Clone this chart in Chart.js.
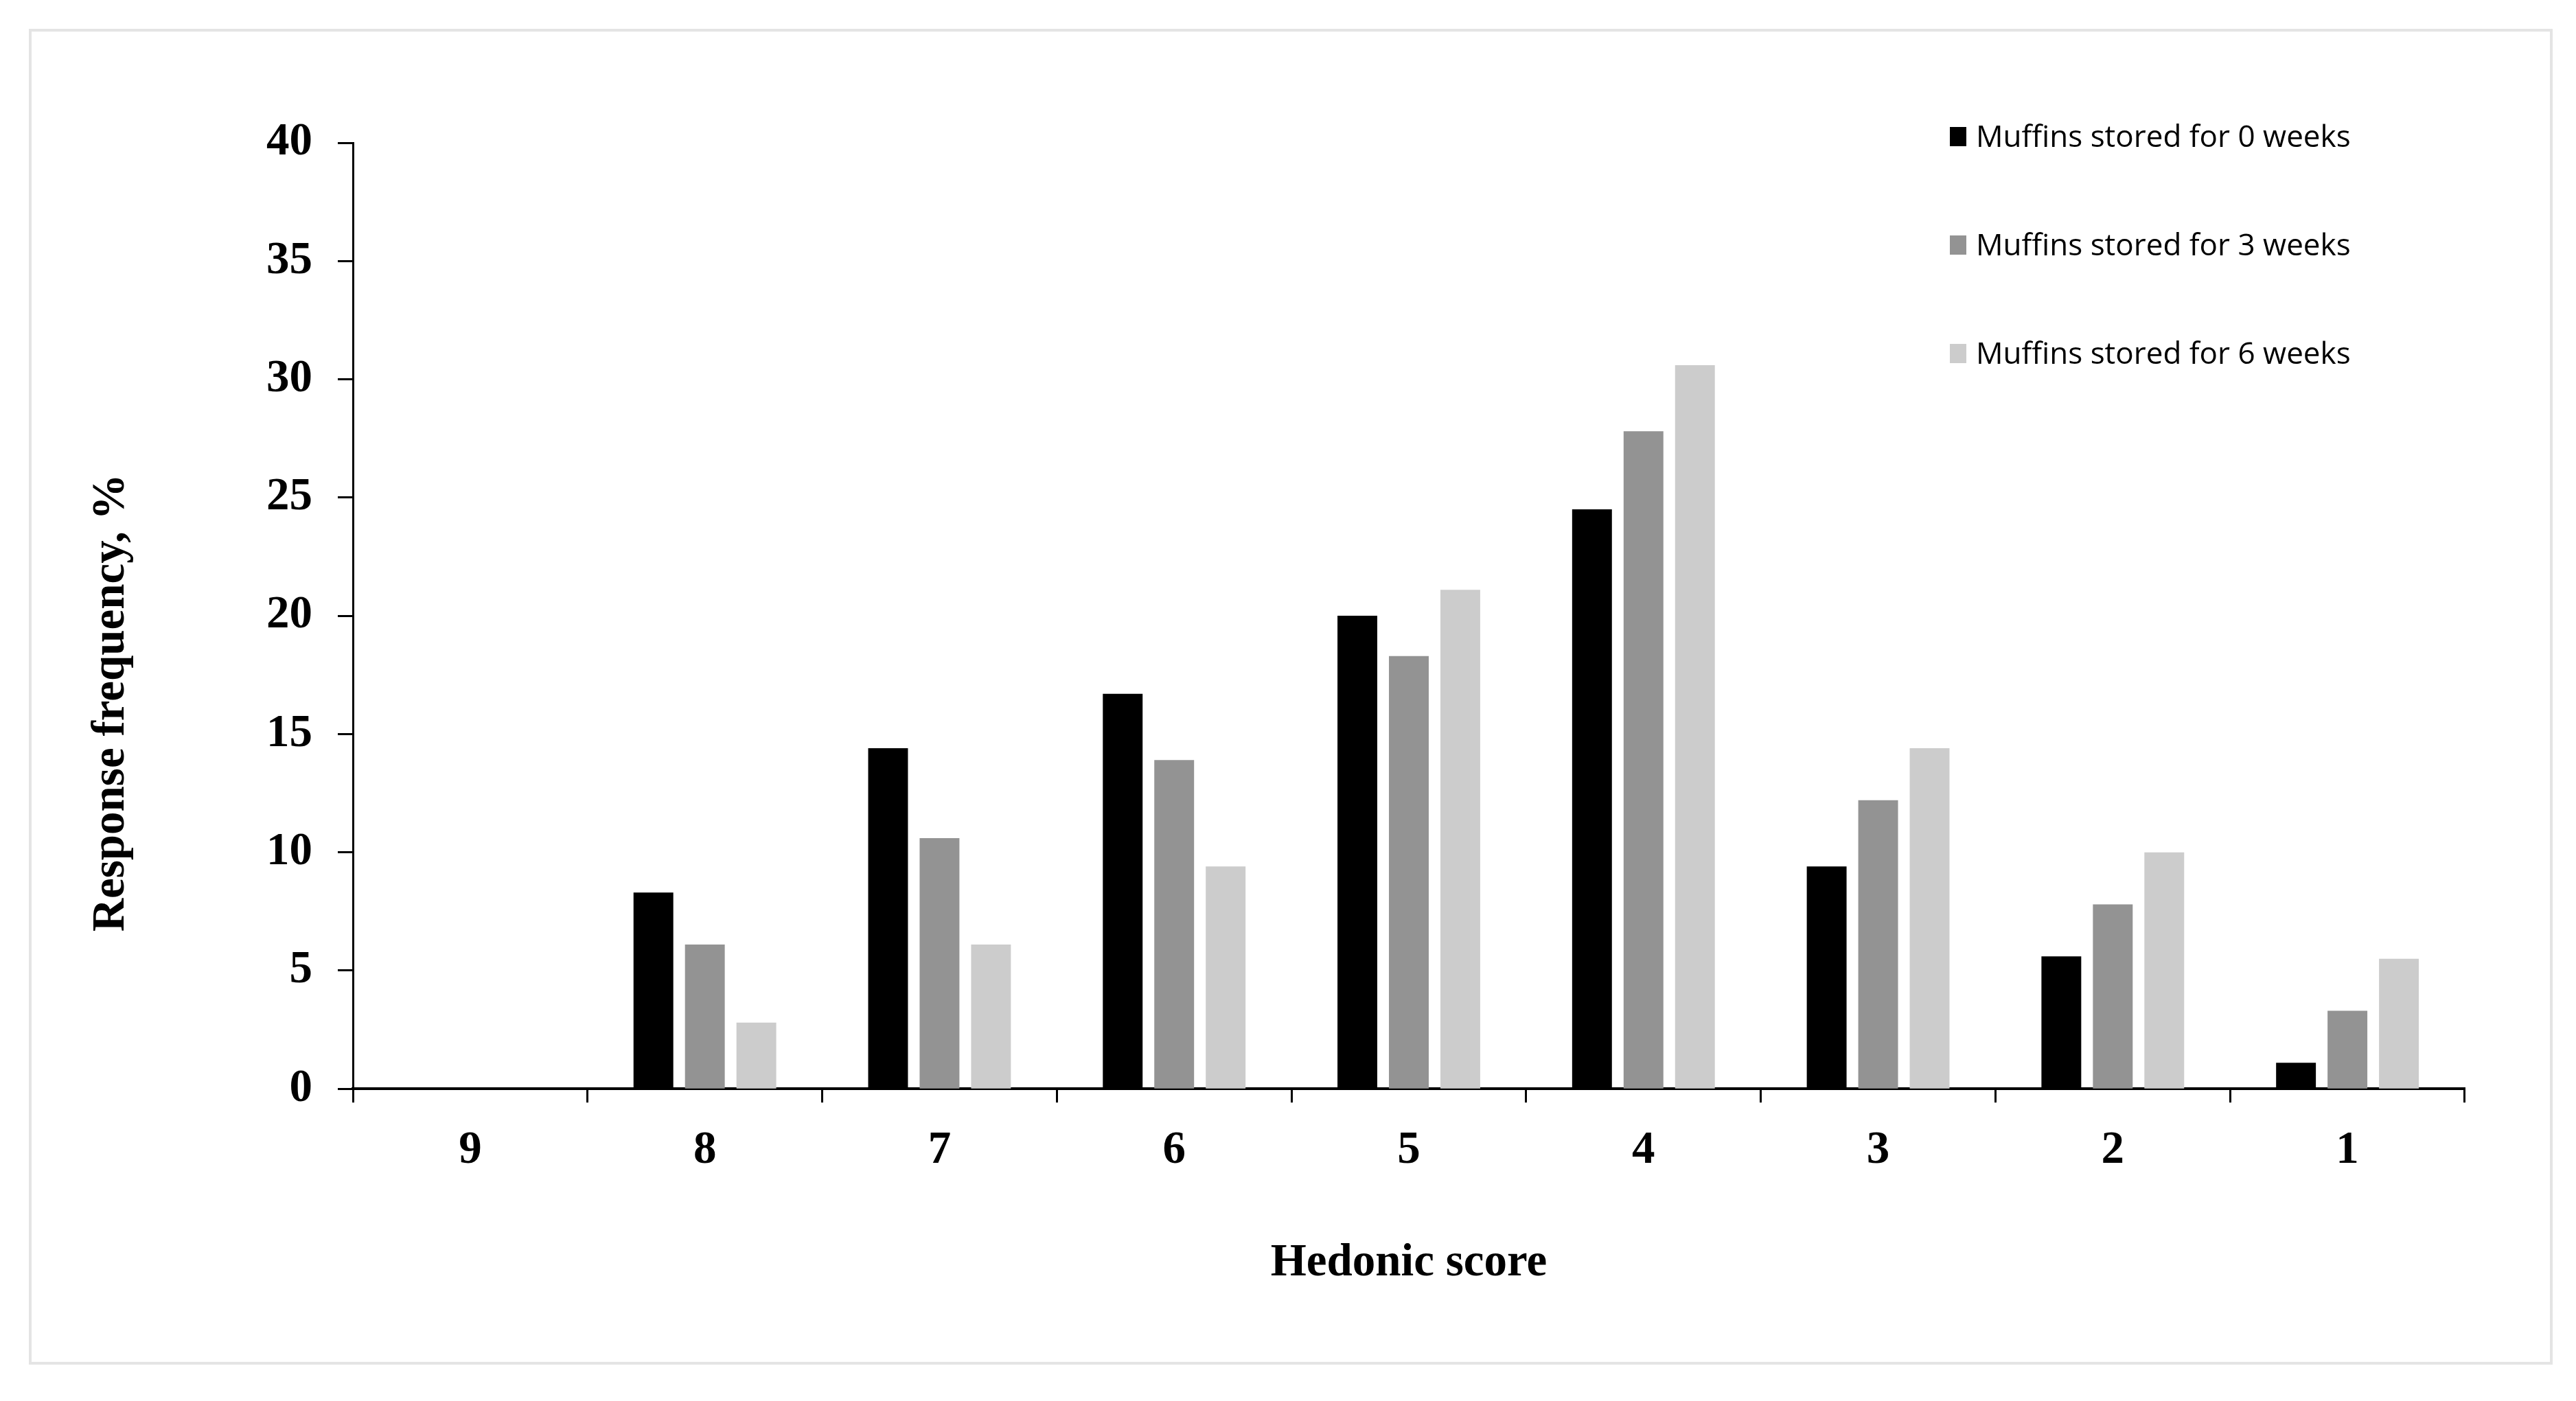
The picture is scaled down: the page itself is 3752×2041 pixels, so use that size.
<!DOCTYPE html>
<html>
<head>
<meta charset="utf-8">
<title>Hedonic score response frequency</title>
<script src="https://cdn.jsdelivr.net/npm/chart.js@4.4.1/dist/chart.umd.min.js"></script>
<style>
  html, body { margin: 0; padding: 0; background: #fff; }
  #wrap { position: relative; width: 3752px; height: 2041px; }
  #frame {
    position: absolute; left: 42px; top: 42px; width: 3676px; height: 1946px;
    border: 4px solid #e4e4e4; box-sizing: border-box; pointer-events: none;
  }
  #chart { position: absolute; left: 0; top: 0; }
</style>
</head>
<body>
<div id="wrap">
  <div id="frame"></div>
  <canvas id="chart" width="3752" height="2041"></canvas>
</div>
<script>
(function(){
  // hedonic scores, shown from 9 down to 1
  const scores = ['9', '8', '7', '6', '5', '4', '3', '2', '1'];
  const seriesLabels = ['Muffins stored for 0 weeks', 'Muffins stored for 3 weeks', 'Muffins stored for 6 weeks'];
  const weeks0 = [0, 8.3, 14.4, 16.7, 20.0, 24.5, 9.4, 5.6, 1.1];
  const weeks3 = [0, 6.1, 10.6, 13.9, 18.3, 27.8, 12.2, 7.8, 3.3];
  const weeks6 = [0, 2.8, 6.1, 9.4, 21.1, 30.6, 14.4, 10.0, 5.5];
  const yTicks = [0, 5, 10, 15, 20, 25, 30, 35, 40];
  const colors = ['#000000', '#939393', '#cccccc'];

  const serif = "'Liberation Serif', 'Times New Roman', serif";
  const sans = "'Open Sans', 'Noto Sans', sans-serif";

  // y title sits a bit below the axis middle in the original
  const yTitlePlugin = {
    id: 'yTitle',
    afterDraw(chart){
      const ctx = chart.ctx;
      const area = chart.chartArea;
      ctx.save();
      ctx.translate(163, area.top + (area.bottom - area.top) * 0.592);
      ctx.rotate(-Math.PI / 2);
      ctx.font = 'bold 67px ' + serif;
      ctx.fillStyle = '#000';
      ctx.textAlign = 'center';
      ctx.textBaseline = 'middle';
      ctx.fillText('Response frequency, %', 0, 0);
      ctx.restore();
    }
  };

  // vertical legend in the top right corner of the plot
  const cornerLegend = {
    id: 'cornerLegend',
    afterDraw(chart){
      const ctx = chart.ctx;
      const x0 = chart.chartArea.right - 750;
      const rows = [199, 357, 515];
      ctx.save();
      ctx.font = '44px ' + sans;
      ctx.textBaseline = 'middle';
      ctx.textAlign = 'left';
      chart.data.datasets.forEach((ds, i)=>{
        const y = rows[i];
        ctx.fillStyle = ds.backgroundColor;
        ctx.fillRect(x0, y - 14, 24, 28);
        ctx.fillStyle = '#000';
        ctx.fillText(ds.label, x0 + 38, y + 2);
      });
      ctx.restore();
    }
  };

  const datasets = [weeks0, weeks3, weeks6].map((vals, i)=>({
    label: seriesLabels[i],
    data: vals,
    backgroundColor: colors[i],
    borderWidth: 0,
    categoryPercentage: 0.658,
    barPercentage: 0.773
  }));

  new Chart(document.getElementById('chart'), {
    type: 'bar',
    data: { labels: scores, datasets },
    options: {
      responsive: false,
      animation: false,
      devicePixelRatio: 1,
      layout: { padding: { left: 122, right: 162, top: 208, bottom: 160 } },
      plugins: { legend: { display: false }, tooltip: { enabled: false } },
      scales: {
        x: {
          grid: {
            offset: true, drawOnChartArea: false, drawTicks: true,
            tickLength: 20, tickWidth: 3, tickColor: '#000'
          },
          border: { display: true, color: '#000', width: 4 },
          ticks: { color: '#000', padding: 30, font: { family: serif, size: 67, weight: 'bold' } },
          title: {
            display: true, text: 'Hedonic score', color: '#000',
            padding: { top: 54, bottom: 0 },
            font: { family: serif, size: 67, weight: 'bold', lineHeight: 1.2 }
          }
        },
        y: {
          min: 0, max: 40,
          afterBuildTicks(scale){ scale.ticks = yTicks.map(v=>({ value: v })); },
          afterFit(scale){ scale.width = 392; },
          grid: {
            drawOnChartArea: false, drawTicks: true,
            tickLength: 22, tickWidth: 3, tickColor: '#000'
          },
          border: { display: true, color: '#000', width: 3 },
          ticks: { color: '#000', padding: 37, font: { family: serif, size: 67, weight: 'bold' } },
          title: { display: false }
        }
      }
    },
    plugins: [yTitlePlugin, cornerLegend]
  });
})();
</script>
</body>
</html>
